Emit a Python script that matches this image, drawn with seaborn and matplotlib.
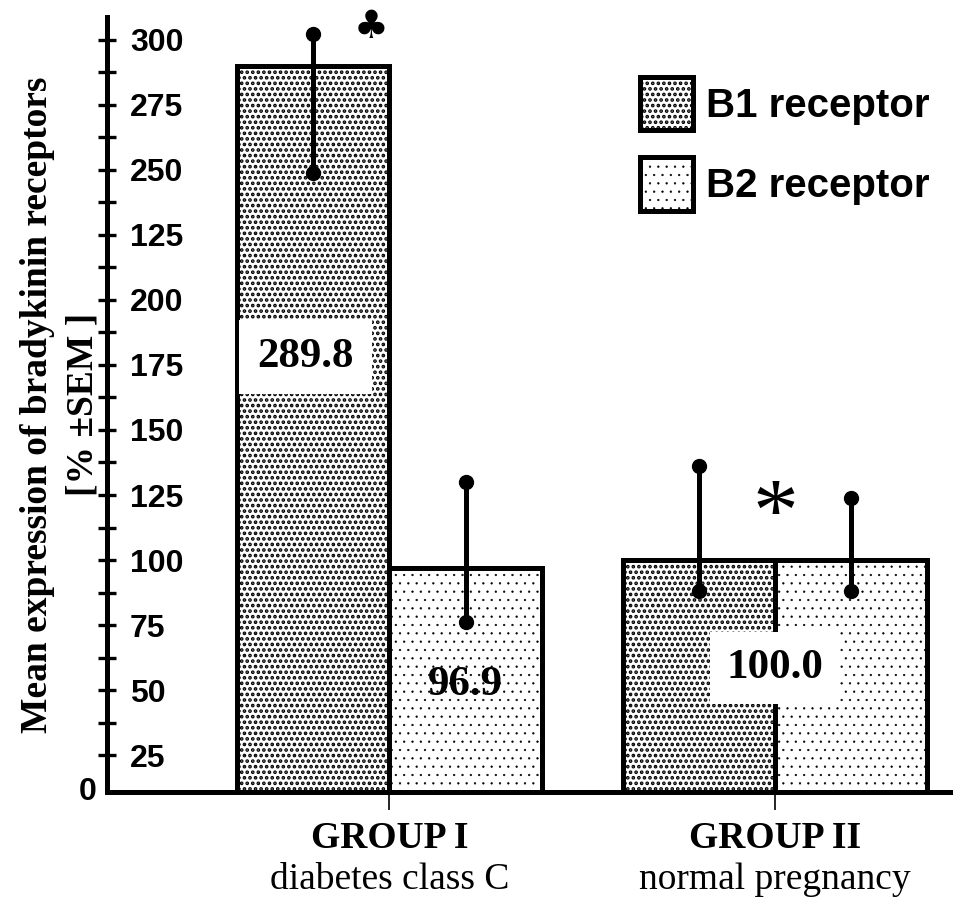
import numpy as np
import pandas as pd
import matplotlib
matplotlib.use('Agg')
import matplotlib.pyplot as plt
import matplotlib.patches as mpatches
import seaborn as sns

# data
groups = ['GROUP I', 'GROUP II']
group_sub = ['diabetes class C', 'normal pregnancy']
receptors = ['B1 receptor', 'B2 receptor']
b1_mean = [289.8, 100.0]
b2_mean = [96.9, 100.0]
b1_err_lo = [248.8, 88.1]
b1_err_hi = [302.3, 136.2]
b2_err_lo = [76.2, 88.1]
b2_err_hi = [130.0, 123.8]
ytick_vals = [25, 50, 75, 100, 125, 150, 175, 200, 225, 250, 275, 300]
ytick_labels = ['25', '50', '75', '100', '125', '150', '175', '200', '125', '250', '275', '300']
yminor_vals = [37.5, 62.5, 87.5, 112.5, 137.5, 162.5, 187.5, 212.5, 237.5, 262.5, 287.5]

df = pd.DataFrame({
    'group': groups * 2,
    'receptor': [receptors[0]] * 2 + [receptors[1]] * 2,
    'value': b1_mean + b2_mean,
})

sns.set_theme(style='white')
plt.rcParams['font.family'] = ['Liberation Serif', 'DejaVu Serif']
for k in ['text.color', 'axes.labelcolor', 'xtick.color', 'ytick.color']:
    plt.rcParams[k] = 'black'
SANS = ['Liberation Sans', 'DejaVu Sans']
SERIF = ['Liberation Serif', 'DejaVu Serif']

hatches = ['...', '..']
hatch_lw = [1.8, 0.4]
edge_lw = 3.6

fig = plt.figure(figsize=(9.54, 9.0), dpi=100)
ax = fig.add_axes([107 / 954, 108 / 900, 847 / 954, 775 / 900])

sns.barplot(data=df, x='group', y='value', hue='receptor', hue_order=receptors,
            palette=['white', 'white'], edgecolor='black', linewidth=edge_lw,
            width=0.79, gap=0, legend=False, ax=ax, zorder=2)

for cont, h, hl in zip(ax.containers, hatches, hatch_lw):
    for bar in cont:
        bar.set_hatch(h)
        if hasattr(bar, 'set_hatch_linewidth'):
            bar.set_hatch_linewidth(hl)

# error bars with round ends
for cont, lo, hi in zip(ax.containers, [b1_err_lo, b2_err_lo], [b1_err_hi, b2_err_hi]):
    for bar, l, u in zip(cont, lo, hi):
        xc = bar.get_x() + bar.get_width() / 2
        ax.plot([xc, xc], [l, u], color='black', lw=3.6, marker='o', ms=10,
                solid_capstyle='butt', zorder=4, clip_on=False)

# value labels
b1_bars = list(ax.containers[0])
b2_bars = list(ax.containers[1])
x0 = b1_bars[0].get_x() + b1_bars[0].get_width() / 2 - 0.02
ax.text(x0, 178, f'{b1_mean[0]:.1f}', ha='center', va='center', fontsize=31,
        fontweight='bold', family=SERIF, zorder=5,
        bbox=dict(facecolor='white', edgecolor='none', pad=13))
x1 = b2_bars[0].get_x() + b2_bars[0].get_width() / 2
ax.text(x1, 52, f'{b2_mean[0]:.1f}', ha='center', va='center', fontsize=31,
        fontweight='bold', family=SERIF, zorder=5)
ax.text(1.0, 58.5, f'{b1_mean[1]:.1f}', ha='center', va='center', fontsize=31,
        fontweight='bold', family=SERIF, zorder=5,
        bbox=dict(facecolor='white', edgecolor='none', pad=12))

# significance marks
ax.text(-0.048, 305, '\u2663', ha='center', va='center', fontsize=28,
        family=['DejaVu Sans'], clip_on=False, zorder=5)
ax.text(1.0, 116, '*', ha='center', va='center', fontsize=66,
        family=SERIF, zorder=5)

# axes
ax.set_xlim(-0.732, 1.464)
ax.set_ylim(10.8, 308.8)
sns.despine(ax=ax, top=True, right=True)
for s in ['left', 'bottom']:
    ax.spines[s].set_linewidth(3.6)
    ax.spines[s].set_color('black')

ax.set_yticks(ytick_vals, labels=ytick_labels)
ax.set_yticks(yminor_vals, minor=True)
ax.tick_params(axis='y', which='both', direction='inout', length=13, width=2.4,
               color='black', pad=-23.1, left=True)
for lab in ax.get_yticklabels():
    lab.set_ha('left')
    lab.set_fontsize(23)
    lab.set_fontweight('bold')
    lab.set_family(SANS)
ax.text(-0.012, 10.8, '0', transform=ax.get_yaxis_transform(), ha='right',
        va='center', fontsize=23, fontweight='bold', family=SANS)

ax.tick_params(axis='x', direction='out', length=13, width=1.2, color='black',
               pad=8, bottom=True)
ax.set_xticks(range(len(groups)), labels=groups)
for lab in ax.get_xticklabels():
    lab.set_fontsize(27)
    lab.set_fontweight('bold')
    lab.set_family(SERIF)
for xt, sub in zip(ax.get_xticks(), group_sub):
    ax.text(xt, -0.1135, sub, transform=ax.get_xaxis_transform(), ha='center',
            va='center', fontsize=27, family=SERIF)

ax.set_xlabel('')
ax.set_ylabel('Mean expression of bradykinin receptors\n[% \u00b1SEM ]', fontsize=27,
              fontweight='bold', family=SERIF, linespacing=1.38)
ax.yaxis.set_label_coords(-0.008, 0.5)

# legend
handles = [mpatches.Patch(facecolor='white', edgecolor='black', hatch=h, linewidth=edge_lw)
           for h in hatches]
leg = ax.legend(handles, receptors, loc='upper left',
                bbox_to_anchor=(640 / 954, 1 - 77 / 900),
                bbox_transform=fig.transFigure, frameon=False, borderpad=0,
                borderaxespad=0, handlelength=1.32, handleheight=1.65,
                handletextpad=0.32, labelspacing=0.68,
                prop=dict(family=SANS, weight='bold', size=29))
for p, hl in zip(leg.get_patches(), hatch_lw):
    if hasattr(p, 'set_hatch_linewidth'):
        p.set_hatch_linewidth(hl)

fig.savefig('out.png', dpi=100)
